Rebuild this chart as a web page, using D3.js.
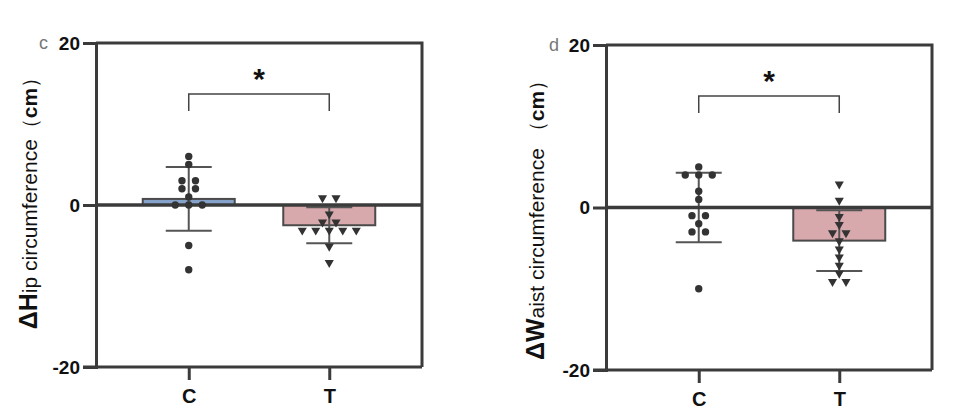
<!DOCTYPE html>
<html>
<head>
<meta charset="utf-8" />
<title>Hip and waist circumference</title>
<script src="https://d3js.org/d3.v7.min.js"></script>
<style>
  body { margin: 0; background: #fff; }
  svg { display: block; font-family: "Liberation Sans", Arial, sans-serif; }
</style>
</head>
<body>
<svg width="954" height="420"></svg>
<script>
// data
var groups = ["C", "T"];
var yTicks = [-20, 0, 20];
var hipC = [6, 5, 3, 3, 2, 2, 1, 0, 0, 0, -5, -8];
var hipT = [1, 1, -1, -2, -2, -3, -3, -3, -3, -3, -5, -7];
var waistC = [5, 4, 4, 4, 2, 1, -1, -1, -2, -3, -3, -10];
var waistT = [3, 1, -1, -2, -3, -3, -4, -5, -6, -7, -8, -9, -9];
var letters = ["c", "d"];

var svg = d3.select("svg");
var ink = "#3b3b3b";

var panels = [
  { x0: 96, x1: 422, y0: 43, y1: 367, letter: letters[0], series: [hipC, hipT],
    labelX: 37, labelY: 198, big: "ΔH", rest: "ip circumference", gap: "" },
  { x0: 606, x1: 932, y0: 45, y1: 370, letter: letters[1], series: [waistC, waistT],
    labelX: 544, labelY: 215, big: "ΔW", rest: "aist circumference", gap: " " }
];
var fills = ["#85a2cb", "#d7a8ac"];

panels.forEach(function (p) {
  var x = d3.scalePoint().domain(groups).range([p.x0, p.x1]).padding(0.66);
  var y = d3.scaleLinear().domain([-20, 20]).range([p.y1, p.y0]);
  var g = svg.append("g");

  // frame top + right
  g.append("path")
    .attr("d", "M" + p.x0 + "," + p.y0 + "H" + p.x1 + "V" + p.y1)
    .attr("fill", "none").attr("stroke", ink).attr("stroke-width", 3);

  // bars
  var stats = p.series.map(function (v, i) {
    return { g: groups[i], v: v, m: d3.mean(v), sd: d3.deviation(v) };
  });
  g.selectAll(".bar").data(stats).enter().append("rect")
    .attr("x", function (d) { return x(d.g) - 46; })
    .attr("width", 92)
    .attr("y", function (d) { return Math.min(y(d.m), y(0)); })
    .attr("height", function (d) { return Math.abs(y(d.m) - y(0)); })
    .attr("fill", function (d, i) { return fills[i]; })
    .attr("stroke", "#4a4a4a").attr("stroke-width", 2);

  // error bars (mean ± SD)
  stats.forEach(function (d) {
    var cx = x(d.g), top = y(d.m + d.sd), bot = y(d.m - d.sd);
    g.append("line").attr("x1", cx).attr("x2", cx).attr("y1", top).attr("y2", bot)
      .attr("stroke", "#555").attr("stroke-width", 2);
    [top, bot].forEach(function (yy) {
      g.append("line").attr("x1", cx - 23).attr("x2", cx + 23).attr("y1", yy).attr("y2", yy)
        .attr("stroke", "#555").attr("stroke-width", 2);
    });
  });

  // zero line
  g.append("line")
    .attr("x1", p.x0).attr("x2", p.x1)
    .attr("y1", y(0)).attr("y2", y(0))
    .attr("stroke", ink).attr("stroke-width", 3.5);

  // points, spread sideways when values repeat
  stats.forEach(function (d, gi) {
    var counts = d3.rollup(d.v, function (a) { return a.length; }, function (v) { return v; });
    var seen = new Map();
    d.v.forEach(function (v) {
      var n = counts.get(v), k = seen.get(v) || 0;
      seen.set(v, k + 1);
      var px = x(d.g) + (k - (n - 1) / 2) * 13.5;
      var py = y(v);
      if (gi === 0) {
        g.append("circle").attr("cx", px).attr("cy", py).attr("r", 3.7).attr("fill", "#333");
      } else {
        g.append("path")
          .attr("d", d3.symbol(d3.symbolTriangle, 36)())
          .attr("transform", "translate(" + px + "," + (py + 1) + ") rotate(180)")
          .attr("fill", "#333");
      }
    });
  });

  // y axis
  var yAxis = g.append("g").attr("transform", "translate(" + p.x0 + ",0)")
    .call(d3.axisLeft(y).tickValues(yTicks).tickSize(13).tickPadding(3)
      .tickFormat(function (d) { return String(d); }));
  yAxis.select(".domain").attr("stroke", ink).attr("stroke-width", 3);
  yAxis.selectAll(".tick line").attr("stroke", ink).attr("stroke-width", 3);
  yAxis.selectAll(".tick text").attr("fill", "#111").attr("font-size", 19)
    .attr("font-weight", "bold").attr("font-family", "Liberation Sans, Arial, sans-serif");

  // x axis
  var xAxis = g.append("g").attr("transform", "translate(0," + p.y1 + ")")
    .call(d3.axisBottom(x).tickSize(13).tickPadding(9));
  xAxis.select(".domain").attr("d", "M" + (p.x0 - 13) + ",0H" + p.x1)
    .attr("stroke", ink).attr("stroke-width", 3);
  xAxis.selectAll(".tick line").attr("stroke", ink).attr("stroke-width", 3);
  xAxis.selectAll(".tick text").attr("fill", "#111").attr("font-size", 20)
    .attr("font-weight", "bold").attr("font-family", "Liberation Sans, Arial, sans-serif");

  // significance bracket
  var bx0 = x("C"), bx1 = x("T"), by = y(20) + 51;
  g.append("path")
    .attr("d", "M" + bx0 + "," + (by + 17) + "V" + by + "H" + bx1 + "V" + (by + 17))
    .attr("fill", "none").attr("stroke", "#444").attr("stroke-width", 1.5);
  g.append("text").attr("x", (bx0 + bx1) / 2).attr("y", by - 5)
    .attr("text-anchor", "middle").attr("font-size", 30).attr("font-weight", "bold")
    .attr("fill", "#111").text("*");

  // panel letter
  g.append("text").attr("x", p.x0 - 57).attr("y", p.y0 + 6)
    .attr("font-size", 18).attr("fill", "#777").text(p.letter);

  // y label
  var lab = g.append("text")
    .attr("transform", "translate(" + p.labelX + "," + p.labelY + ") rotate(-90)")
    .attr("text-anchor", "middle").attr("fill", "#111");
  lab.append("tspan").attr("font-size", 25).attr("font-weight", "bold").text(p.big);
  lab.append("tspan").attr("font-size", 21).text(p.rest + p.gap + "（");
  lab.append("tspan").attr("font-size", 21).attr("font-weight", "bold").text("cm");
  lab.append("tspan").attr("font-size", 21).text("）");
});
</script>
</body>
</html>
